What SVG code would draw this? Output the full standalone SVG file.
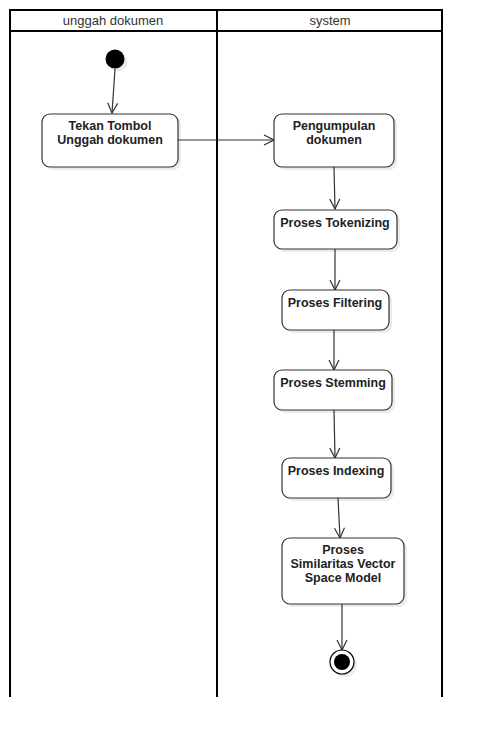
<svg xmlns="http://www.w3.org/2000/svg" width="482" height="738" viewBox="0 0 482 738">
<style>
.lane{fill:none;stroke:#000;stroke-width:2}
.hdr{font-family:"Liberation Sans",Arial,sans-serif;font-size:13px;fill:#333;text-anchor:middle}
.box{fill:#fff;stroke:#333;stroke-width:1.2}
.sh{fill:#000;opacity:0.08}
.lbl{font-family:"Liberation Sans",Arial,sans-serif;font-size:12.5px;font-weight:bold;fill:#222;text-anchor:middle}
.edge{fill:none;stroke:#333;stroke-width:1.2}
</style>
<defs>
<marker id="arr" viewBox="0 0 12 12" refX="11" refY="6" markerWidth="12" markerHeight="12" markerUnits="userSpaceOnUse" orient="auto">
<path d="M1,1 L11,6 L1,11" fill="none" stroke="#333" stroke-width="1.2"/>
</marker>
</defs>
<rect width="482" height="738" fill="#fff"/>
<g id="swimlanes">
<path class="lane" d="M10,697 V10 H442 V697 M10,31 H442 M217,10 V697"/>
<text class="hdr" x="113" y="25">unggah dokumen</text>
<text class="hdr" x="330" y="25">system</text>
</g>
<g id="connectors">
<path class="edge" d="M115,69 L112,113" marker-end="url(#arr)"/>
<path class="edge" d="M178,140 L274,140" marker-end="url(#arr)"/>
<path class="edge" d="M334,167 L335,209" marker-end="url(#arr)"/>
<path class="edge" d="M335,249 L335,290" marker-end="url(#arr)"/>
<path class="edge" d="M334,330 L334,370" marker-end="url(#arr)"/>
<path class="edge" d="M334,410 L335,458" marker-end="url(#arr)"/>
<path class="edge" d="M338,498 L340,538" marker-end="url(#arr)"/>
<path class="edge" d="M342,604 L342,650" marker-end="url(#arr)"/>
</g>
<g id="start">
<circle class="sh" cx="118" cy="62" r="9.5"/>
<circle cx="115" cy="59" r="9.5" fill="#000"/>
</g>
<g id="tekan">
<rect class="sh" x="45" y="117" width="136" height="53" rx="8"/>
<rect class="box" x="42" y="114" width="136" height="53" rx="8"/>
<text class="lbl" x="110" y="130">Tekan Tombol</text>
<text class="lbl" x="110" y="144">Unggah dokumen</text>
</g>
<g id="pengumpulan">
<rect class="sh" x="277" y="117" width="120" height="53" rx="8"/>
<rect class="box" x="274" y="114" width="120" height="53" rx="8"/>
<text class="lbl" x="334" y="130">Pengumpulan</text>
<text class="lbl" x="334" y="144">dokumen</text>
</g>
<g id="tokenizing">
<rect class="sh" x="277" y="213" width="123" height="39" rx="8"/>
<rect class="box" x="274" y="210" width="123" height="39" rx="8"/>
<text class="lbl" x="335" y="227">Proses Tokenizing</text>
</g>
<g id="filtering">
<rect class="sh" x="285" y="293" width="107" height="40" rx="8"/>
<rect class="box" x="282" y="290" width="107" height="40" rx="8"/>
<text class="lbl" x="335" y="307">Proses Filtering</text>
</g>
<g id="stemming">
<rect class="sh" x="277" y="373" width="118" height="40" rx="8"/>
<rect class="box" x="274" y="370" width="118" height="40" rx="8"/>
<text class="lbl" x="333" y="387">Proses Stemming</text>
</g>
<g id="indexing">
<rect class="sh" x="285" y="461" width="109" height="40" rx="8"/>
<rect class="box" x="282" y="458" width="109" height="40" rx="8"/>
<text class="lbl" x="336" y="475">Proses Indexing</text>
</g>
<g id="similaritas">
<rect class="sh" x="285" y="541" width="122" height="66" rx="8"/>
<rect class="box" x="282" y="538" width="122" height="66" rx="8"/>
<text class="lbl" x="343" y="554">Proses</text>
<text class="lbl" x="343" y="568">Similaritas Vector</text>
<text class="lbl" x="343" y="582">Space Model</text>
</g>
<g id="end">
<circle class="sh" cx="345" cy="665" r="12"/>
<circle cx="342" cy="662" r="12" fill="#fff" stroke="#000" stroke-width="1.2"/>
<circle cx="342" cy="662" r="8" fill="#000"/>
</g>
</svg>
